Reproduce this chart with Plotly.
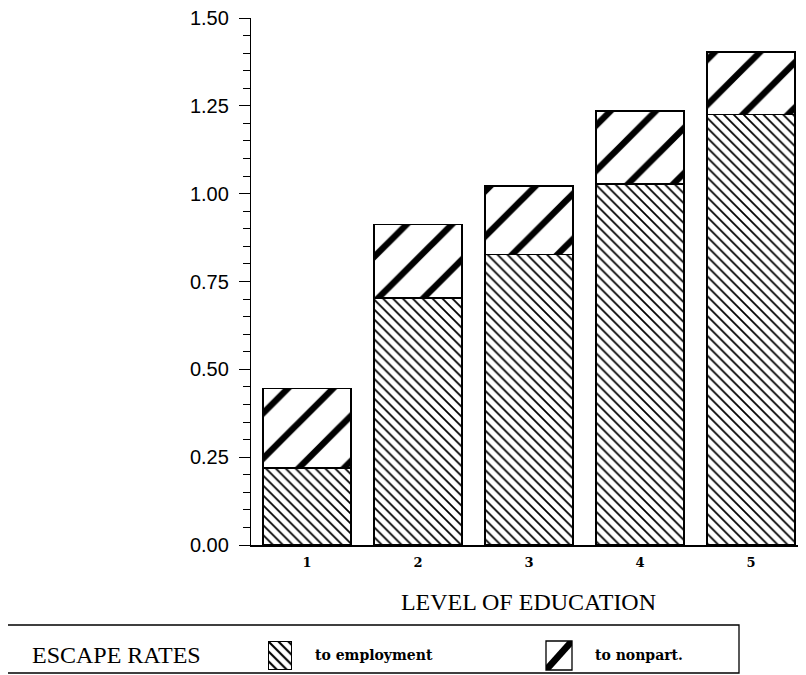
import plotly.graph_objects as go

levels = [1, 2, 3, 4, 5]
level_labels = ["1", "2", "3", "4", "5"]
to_employment = [0.219, 0.703, 0.827, 1.028, 1.225]
to_nonpart = [0.226, 0.209, 0.195, 0.208, 0.178]
y_ticks = [0.0, 0.25, 0.5, 0.75, 1.0, 1.25, 1.5]
y_ticklabels = ["0.00", "0.25", "0.50", "0.75", "1.00", "1.25", "1.50"]
series_names = ["to employment", "to nonpart."]
legend_title = "ESCAPE RATES"
x_title = "LEVEL OF EDUCATION"

W, H = 806, 675
OFF = 8  # page body margin
SERIF = "Liberation Serif"
BOLDSERIF = "DejaVu Serif"

emp_pattern = dict(shape="\\", size=7, solidity=0.25, fgcolor="black",
                   bgcolor="white", fgopacity=1, fillmode="replace")
non_pattern = dict(shape="/", size=32, solidity=0.2, fgcolor="black",
                   bgcolor="white", fgopacity=1, fillmode="replace")
outline = dict(color="black", width=1.6)

fig = go.Figure()
fig.add_trace(go.Bar(x=levels, y=to_employment, name=series_names[0], width=0.79,
                     marker=dict(color="white", line=outline, pattern=emp_pattern),
                     showlegend=False))
fig.add_trace(go.Bar(x=levels, y=to_nonpart, name=series_names[1], width=0.79,
                     marker=dict(color="white", line=outline, pattern=non_pattern),
                     showlegend=False))

# legend swatch for "to employment" (own tiny subplot)
fig.add_trace(go.Bar(x=[0], y=[1], width=1, xaxis="x2", yaxis="y2", showlegend=False,
                     hoverinfo="skip",
                     marker=dict(color="white", line=dict(color="black", width=1.3),
                                 pattern=dict(emp_pattern, size=7, solidity=0.3))))


def px(x):
    return (x - OFF) / W


def py(y):
    return 1 - (y - OFF) / H


def stripe_swatch(x0, x1, y0, y1, b):
    """legend glyph: box with one thick '/' stripe (screen px coords)"""
    a = b * (y1 - y0) / (x1 - x0)
    pts = [(x0, y1 - a), (x1 - b, y0), (x1, y0), (x1, y0 + a), (x0 + b, y1), (x0, y1)]
    d = "M " + " L ".join("%.4f,%.4f" % (px(x), py(y)) for x, y in pts) + " Z"
    return [
        dict(type="path", xref="paper", yref="paper", path=d,
             fillcolor="black", line=dict(width=0)),
        dict(type="rect", xref="paper", yref="paper", x0=px(x0), x1=px(x1),
             y0=py(y1), y1=py(y0), line=dict(color="black", width=1.3),
             fillcolor="rgba(0,0,0,0)"),
    ]


hidden = dict(visible=False, fixedrange=True)

shapes = [dict(type="rect", xref="paper", yref="paper",
               x0=px(7), x1=px(739), y0=py(673), y1=py(625),
               line=dict(color="black", width=1.3), fillcolor="rgba(0,0,0,0)")]
shapes += stripe_swatch(546, 572, 641, 670, 4.5)

fig.update_layout(
    width=W, height=H,
    margin=dict(l=0, r=0, t=0, b=0, autoexpand=False),
    barmode="stack",
    plot_bgcolor="white", paper_bgcolor="white",
    showlegend=False,
    xaxis=dict(
        domain=[px(251), px(806)],
        range=[0.495, 5.495], tickvals=levels,
        ticktext=["<b>%s</b>" % t for t in level_labels],
        tickfont=dict(family=BOLDSERIF, size=13, color="black"),
        showline=True, linecolor="black", linewidth=1.5,
        ticks="", showgrid=False, zeroline=False, ticklabelstandoff=5,
        title=dict(text=x_title, font=dict(family=SERIF, size=24, color="black"),
                   standoff=24),
    ),
    yaxis=dict(
        domain=[py(545), py(18)],
        range=[0, 1.5001], tickvals=y_ticks, ticktext=y_ticklabels,
        tickfont=dict(family="Liberation Sans", size=20, color="black"),
        showline=True, linecolor="black", linewidth=1.3,
        ticks="outside", ticklen=11, tickwidth=1.3, tickcolor="black",
        minor=dict(dtick=0.05, ticks="outside", ticklen=7, tickwidth=1.2, tickcolor="black"),
        showgrid=False, zeroline=False, ticklabelstandoff=6,
        ticklabeloverflow="allow",
    ),
    xaxis2=dict(domain=[px(268), px(292)], range=[-0.5, 0.5], anchor="y2", **hidden),
    yaxis2=dict(domain=[py(670), py(641)], range=[0, 1], anchor="x2", **hidden),
    shapes=shapes,
    annotations=[
        dict(text=legend_title, x=px(30), y=py(655), xref="paper", yref="paper",
             xanchor="left", yanchor="middle", showarrow=False,
             font=dict(family=SERIF, size=24, color="black")),
        dict(text="<b>%s</b>" % series_names[0], x=px(313), y=py(655), xref="paper",
             yref="paper", xanchor="left", yanchor="middle", showarrow=False,
             font=dict(family=BOLDSERIF, size=14, color="black")),
        dict(text="<b>%s</b>" % series_names[1], x=px(593), y=py(655), xref="paper",
             yref="paper", xanchor="left", yanchor="middle", showarrow=False,
             font=dict(family=BOLDSERIF, size=14, color="black")),
    ],
)

fig.write_html("out.html")
